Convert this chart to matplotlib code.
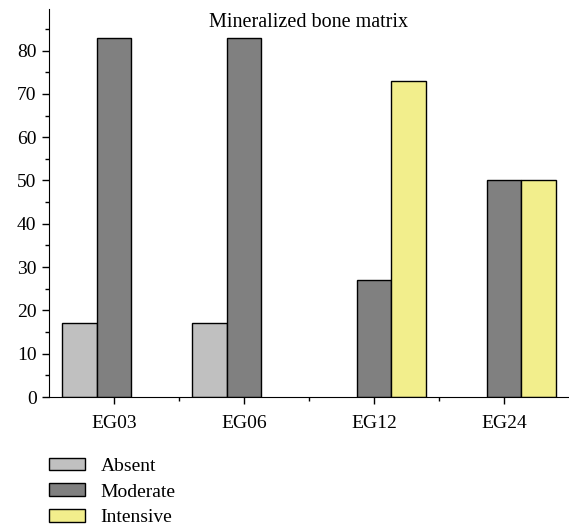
import matplotlib
matplotlib.use("Agg")
import matplotlib.pyplot as plt
import numpy as np
from matplotlib.ticker import MultipleLocator, FixedLocator

categories = ["EG03", "EG06", "EG12", "EG24"]
series_names = ["Absent", "Moderate", "Intensive"]
absent = [17, 17, 0, 0]
moderate = [83, 83, 27, 50]
intensive = [0, 0, 73, 50]
colors = ["#c0c0c0", "#808080", "#f2ee8c"]

plt.rcParams['font.family'] = ['Liberation Serif', 'DejaVu Serif']

W, H = 569, 531
fig = plt.figure(figsize=(W/100, H/100), dpi=100)
ax = fig.add_axes([49/W, 1-397/H, (569-49)/W, (397-9)/H])

x = np.arange(len(categories))
bw = 0.265
handles = []
for i, (vals, name, c) in enumerate(zip([absent, moderate, intensive], series_names, colors)):
    v = np.array(vals, dtype=float)
    v[v == 0] = np.nan
    h = ax.bar(x + (i-1)*bw, v, width=bw, color=c, edgecolor="black", linewidth=1.0, label=name)
    handles.append(h)

ax.set_xlim(-0.5, 3.5)
ax.set_ylim(0, 89.6)
ax.set_xticks(x)
ax.set_xticklabels(categories)
ax.xaxis.set_minor_locator(FixedLocator([0.5, 1.5, 2.5]))
ax.yaxis.set_major_locator(MultipleLocator(10))
ax.yaxis.set_minor_locator(MultipleLocator(5))
for s in ["top", "right"]:
    ax.spines[s].set_visible(False)
ax.tick_params(axis="both", which="major", length=5, width=1, labelsize=14, direction="out")
ax.tick_params(axis="both", which="minor", length=3, width=1, direction="out")
ax.tick_params(axis="x", pad=8)
ax.tick_params(axis="y", pad=4)

ax.text(0.5, 0.99, "Mineralized bone matrix", transform=ax.transAxes, ha="center", va="top", fontsize=14.5)

fig.legend(handles=handles, labels=series_names, loc="upper left",
           bbox_to_anchor=(32/W, 1-440/H), frameon=False, fontsize=14,
           handlelength=1.8, handleheight=0.62, labelspacing=0.45, handletextpad=0.82)

fig.savefig("out.png", dpi=100)
